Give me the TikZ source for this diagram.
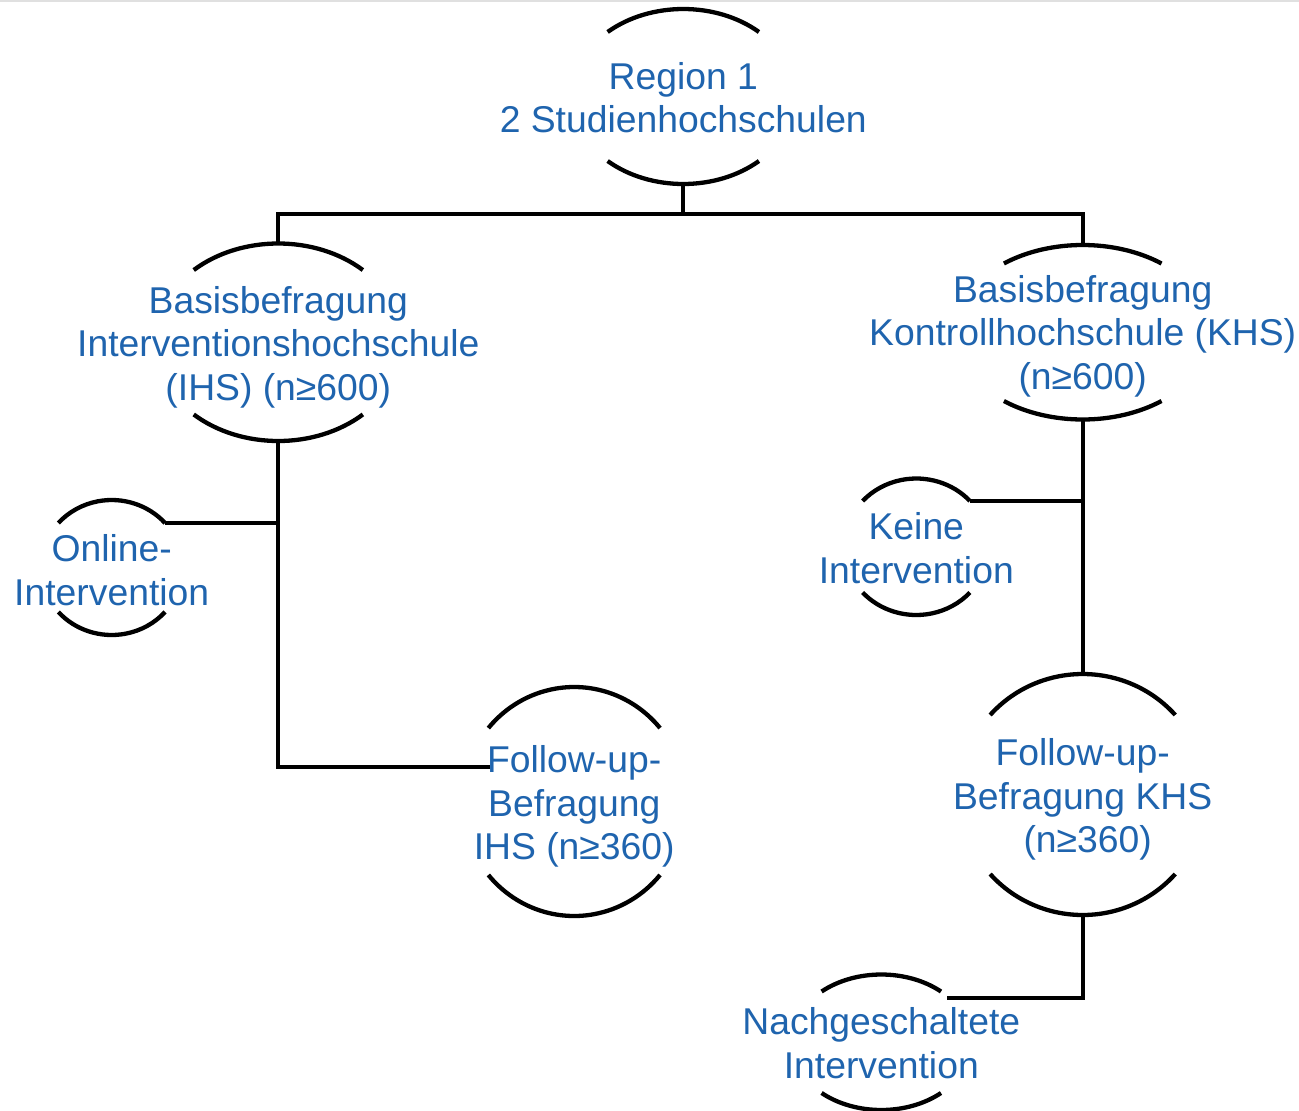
\documentclass[tikz,border=0pt]{standalone}
\usepackage{fontspec}
\setmainfont{Liberation Sans}
\usetikzlibrary{calc}
\definecolor{txtblue}{HTML}{1F64AE}
\tikzset{
  arcline/.style={line width=4.3pt, black},
  conn/.style={line width=4.3pt, black},
  lbl/.style={inner sep=0pt, align=center, text=txtblue, font=\fontsize{37.3}{43.5}\selectfont},
}
% #1 name, #2 cx, #3 cy (image px, downwards), #4 a, #5 b, #6 arc angle, #7 text shift, #8 text
\newcommand\ovnode[8]{%
  \coordinate (#1-c) at (#2,-#3);
  \coordinate (#1-n) at ($(#1-c)+(0,#5)$);
  \coordinate (#1-s) at ($(#1-c)+(0,-#5)$);
  \coordinate (#1-ne) at ($(#1-c)+(#6:#4 and #5)$);
  \coordinate (#1-sw) at ($(#1-c)+(180+#6:#4 and #5)$);
  \draw[arcline] (#1-ne) arc[start angle=#6, end angle=180-#6, x radius=#4, y radius=#5];
  \draw[arcline] (#1-sw) arc[start angle=180+#6, end angle=360-#6, x radius=#4, y radius=#5];
  \node[lbl] (#1) at ($(#1-c)+(0,-#7)$) {\strut #8\strut};
}
\begin{document}
\begin{tikzpicture}[x=1pt,y=1pt]
\useasboundingbox (0,0) rectangle (1299,-1111);
\fill[white] (0,0) rectangle (1299,-1111);
\draw[black!12, line width=1.5pt] (0,-0.75) -- (1299,-0.75);

\ovnode{reg}{683.3}{96.5}{112}{87.5}{47.5}{5.8}{Region 1\\2 Studienhochschulen}
\ovnode{ihs}{278.3}{342.25}{124}{98.75}{47}{6}{Basisbefragung\\Interventionshochschule\\(IHS) (n≥600)}
\ovnode{khs}{1082.7}{332.25}{128}{87.25}{52}{5}{Basisbefragung\\Kontrollhochschule (KHS)\\(n≥600)}
\ovnode{on}{111.7}{567.5}{70.9}{67.5}{41.2}{7.5}{Online-\\Intervention}
\ovnode{kei}{916.3}{546.75}{72.3}{68.25}{42.1}{6}{Keine\\Intervention}
\ovnode{fui}{574.2}{801.5}{111.9}{114.5}{39.9}{5.8}{Follow-up-\\Befragung\\IHS (n≥360)}
\ovnode{fuk}{1082.7}{794.5}{123.2}{120.5}{41.3}{6}{Follow-up-\\Befragung KHS\\\hspace*{10pt}(n≥360)}
\ovnode{nach}{881.3}{1042.25}{90.1}{67.75}{48.5}{5.5}{Nachgeschaltete\\Intervention}

\coordinate (junc) at (683.3,-214.3);
\coordinate (fuic) at (490,-766.7);
\coordinate (nachc) at (946.7,-998.3);

\draw[conn] (reg-s) -- (junc);
\draw[conn] (ihs-n) |- (junc) -| (khs-n);
\draw[conn] (ihs-s) |- (fuic);
\draw[conn] (on-ne) -- (on-ne -| ihs-s);
\draw[conn] (khs-s) -- (fuk-n);
\draw[conn] (kei-ne) -- (kei-ne -| khs-s);
\draw[conn] (fuk-s) |- (nachc);
\end{tikzpicture}
\end{document}
